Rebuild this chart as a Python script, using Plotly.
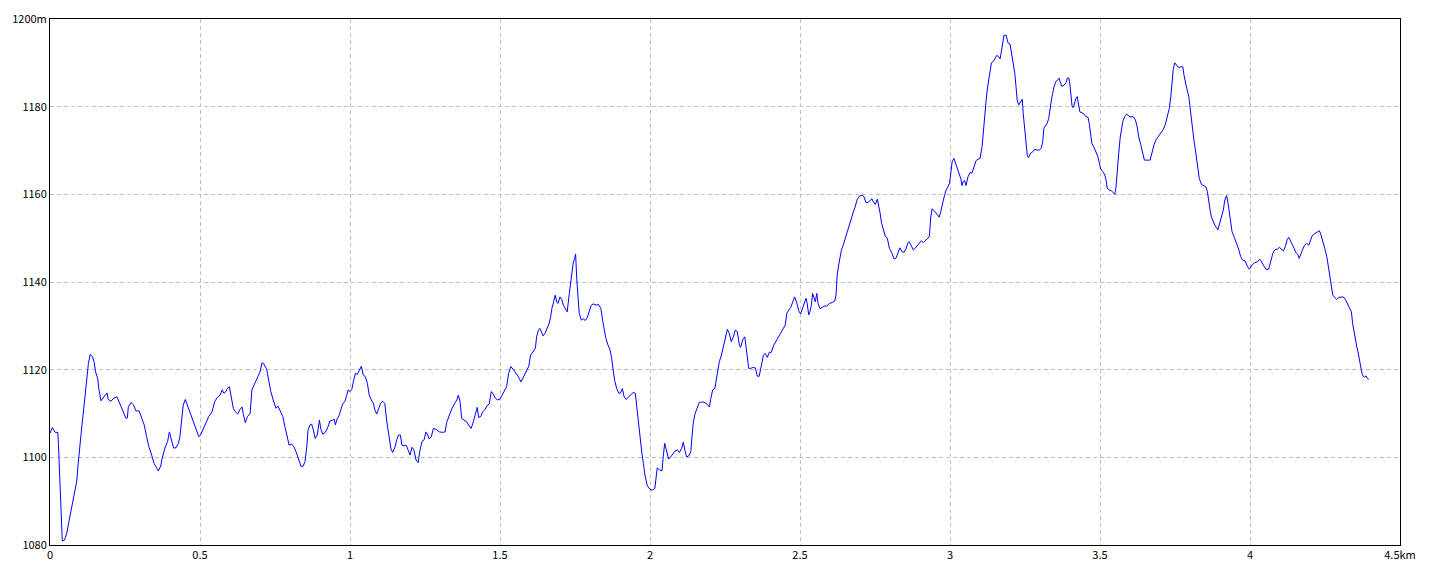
import plotly.graph_objects as go

# distance along route (km)
distance_km = [
    0.000, 0.008, 0.017, 0.026, 0.028, 0.031, 0.034, 0.038, 0.041, 0.048, 0.056, 0.063, 0.072, 0.081, 0.089, 0.094,
    0.099, 0.106, 0.112, 0.117, 0.122, 0.128, 0.134, 0.141, 0.147, 0.152, 0.159, 0.163, 0.170, 0.179, 0.190, 0.194,
    0.203, 0.213, 0.223, 0.230, 0.239, 0.247, 0.253, 0.258, 0.261, 0.270, 0.279, 0.286, 0.297, 0.306, 0.314, 0.322,
    0.330, 0.339, 0.347, 0.356, 0.361, 0.369, 0.374, 0.383, 0.392, 0.398, 0.402, 0.408, 0.412,
    0.420, 0.428, 0.433, 0.439, 0.444, 0.451, 0.458, 0.464, 0.473, 0.482, 0.489, 0.496, 0.502, 0.511, 0.520, 0.529,
    0.540, 0.549, 0.558, 0.567, 0.574, 0.580, 0.586, 0.591, 0.598, 0.604, 0.611, 0.618, 0.626, 0.633, 0.640, 0.644,
    0.651, 0.658, 0.667, 0.673, 0.680, 0.687, 0.693, 0.700, 0.707, 0.713, 0.722, 0.729, 0.736, 0.744, 0.753, 0.760,
    0.767, 0.776, 0.783, 0.791, 0.797, 0.806, 0.813, 0.820, 0.827, 0.832,
    0.837, 0.844, 0.850, 0.856, 0.860, 0.867, 0.872, 0.878, 0.884, 0.891, 0.898, 0.903, 0.909, 0.916, 0.922, 0.929,
    0.933, 0.942, 0.947, 0.951, 0.958, 0.964, 0.970, 0.976, 0.983, 0.989, 0.994, 1.000, 1.006, 1.011, 1.018, 1.024,
    1.031, 1.038, 1.044, 1.051, 1.058, 1.064, 1.071, 1.078, 1.083, 1.089, 1.096, 1.102, 1.109, 1.116, 1.122, 1.129,
    1.136, 1.142, 1.149, 1.156, 1.162, 1.168, 1.173, 1.180, 1.187, 1.193, 1.200, 1.207, 1.213, 1.220, 1.227,
    1.233, 1.240, 1.247, 1.253, 1.259, 1.264, 1.271, 1.278, 1.287, 1.298, 1.309, 1.317, 1.322, 1.331, 1.340, 1.349,
    1.356, 1.361, 1.367, 1.372, 1.380, 1.389, 1.397, 1.404, 1.411, 1.419, 1.424, 1.429, 1.436, 1.442, 1.449, 1.456,
    1.464, 1.471, 1.478, 1.484, 1.491, 1.500, 1.507, 1.513, 1.522, 1.529, 1.536, 1.544, 1.553, 1.561, 1.570, 1.578,
    1.587, 1.596, 1.602, 1.609, 1.618, 1.622, 1.628, 1.633,
    1.638, 1.644, 1.651, 1.658, 1.664, 1.669, 1.673, 1.679, 1.684, 1.689, 1.693, 1.700, 1.706, 1.711, 1.718, 1.724,
    1.731, 1.736, 1.740, 1.744, 1.749, 1.752, 1.756, 1.760, 1.764, 1.771, 1.778, 1.784, 1.791, 1.798, 1.804, 1.811,
    1.820, 1.828, 1.836, 1.842, 1.847, 1.853, 1.860, 1.867, 1.872, 1.878, 1.882, 1.889, 1.896, 1.902, 1.908, 1.913,
    1.920, 1.929, 1.938, 1.944, 1.951, 1.956, 1.961, 1.967, 1.973, 1.978, 1.983, 1.991, 2.000, 2.009, 2.016,
    2.020, 2.024, 2.033, 2.040, 2.044, 2.049, 2.053, 2.058, 2.062, 2.069, 2.076, 2.083, 2.091, 2.098, 2.106, 2.111,
    2.116, 2.122, 2.129, 2.136, 2.140, 2.144, 2.150, 2.158, 2.164, 2.172, 2.180, 2.189, 2.198, 2.202, 2.209, 2.216,
    2.220, 2.227, 2.231, 2.238, 2.244, 2.251, 2.258, 2.264, 2.271, 2.278, 2.284, 2.291, 2.298, 2.302, 2.309, 2.316,
    2.322, 2.329, 2.336, 2.342, 2.351, 2.358, 2.364, 2.371, 2.378, 2.384, 2.391, 2.398, 2.404, 2.411, 2.418, 2.424,
    2.431,
    2.451, 2.456, 2.462, 2.469, 2.476, 2.482, 2.489, 2.496, 2.502, 2.509, 2.516, 2.520, 2.524, 2.529, 2.533, 2.538,
    2.542, 2.547, 2.551, 2.556, 2.560, 2.567, 2.573, 2.580, 2.589, 2.598, 2.607, 2.616, 2.620, 2.624, 2.629, 2.633,
    2.638, 2.644, 2.651, 2.658, 2.664, 2.671, 2.678, 2.684, 2.691, 2.698, 2.707, 2.713, 2.720, 2.728, 2.736, 2.740,
    2.744, 2.751, 2.758, 2.762, 2.767, 2.772, 2.778, 2.784, 2.791, 2.798,
    2.807, 2.813, 2.820, 2.827, 2.833, 2.840, 2.847, 2.853, 2.860, 2.864, 2.871, 2.878, 2.884, 2.891, 2.898, 2.904,
    2.911, 2.918, 2.924, 2.931, 2.936, 2.940, 2.947, 2.953, 2.960, 2.964, 2.969, 2.973, 2.978, 2.982, 2.987, 2.993,
    2.998, 3.002, 3.007, 3.013, 3.018, 3.024, 3.031, 3.036, 3.040, 3.044, 3.049, 3.053, 3.060, 3.067, 3.073, 3.080,
    3.087, 3.093, 3.100, 3.107, 3.111, 3.116, 3.120, 3.124, 3.129, 3.133, 3.138, 3.144, 3.151, 3.156, 3.162, 3.167,
    3.171, 3.176, 3.180, 3.187, 3.193, 3.200,
    3.209, 3.216, 3.220, 3.224, 3.229, 3.236, 3.241, 3.244, 3.249, 3.253, 3.258, 3.262, 3.269, 3.276, 3.282, 3.289,
    3.298, 3.304, 3.309, 3.313, 3.320, 3.324, 3.329, 3.333, 3.338, 3.342, 3.347, 3.353, 3.360, 3.364, 3.369, 3.373,
    3.380, 3.387, 3.391, 3.396, 3.400, 3.403, 3.407, 3.411, 3.416, 3.420, 3.424, 3.429, 3.433, 3.440, 3.447, 3.453,
    3.460, 3.464, 3.469, 3.473, 3.480, 3.487, 3.493, 3.498, 3.502, 3.509, 3.516, 3.520, 3.524, 3.531, 3.538, 3.544,
    3.549, 3.553, 3.558, 3.562, 3.567, 3.571, 3.576, 3.582, 3.589, 3.596,
    3.600, 3.611, 3.618, 3.624, 3.629, 3.636, 3.642, 3.648, 3.658, 3.667, 3.673, 3.680, 3.687, 3.696, 3.704, 3.711,
    3.718, 3.724, 3.731, 3.736, 3.740, 3.744, 3.749, 3.756, 3.762, 3.769, 3.776, 3.780, 3.784, 3.789, 3.796, 3.800,
    3.804, 3.809, 3.813, 3.818, 3.822, 3.827, 3.831, 3.838, 3.844, 3.853, 3.858, 3.862, 3.867, 3.871, 3.878, 3.884,
    3.893, 3.898, 3.904, 3.911, 3.916, 3.922, 3.927, 3.933, 3.940, 3.947, 3.953, 3.958, 3.962, 3.969, 3.976, 3.984,
    3.991, 3.998,
    4.007, 4.016, 4.024, 4.033, 4.040, 4.047, 4.053, 4.062, 4.069, 4.076, 4.082, 4.091, 4.098, 4.104, 4.111, 4.118,
    4.124, 4.129, 4.133, 4.140, 4.147, 4.153, 4.160, 4.164, 4.169, 4.176, 4.182, 4.189, 4.196, 4.200, 4.207, 4.213,
    4.220, 4.227, 4.231, 4.236, 4.242, 4.249, 4.256, 4.262, 4.267, 4.271, 4.276, 4.282, 4.289, 4.296, 4.302, 4.311,
    4.318, 4.324, 4.331, 4.338, 4.342, 4.347, 4.351, 4.356, 4.360, 4.364, 4.369, 4.373, 4.378, 4.382, 4.387, 4.391,
    4.396,
]

# elevation (m)
elevation_m = [
    1105.5, 1106.8, 1105.7, 1105.7, 1103.2, 1098.2, 1093.3, 1088.1, 1080.9, 1081.1, 1082.7, 1085.3, 1088.4, 1092.2, 1094.5, 1098.6,
    1102.8, 1107.0, 1110.8, 1114.6, 1118.4, 1121.4, 1123.5, 1123.0, 1121.8, 1119.5, 1118.0, 1115.5, 1112.9, 1113.8, 1114.7, 1113.2,
    1112.8, 1113.5, 1113.8, 1112.7, 1111.2, 1110.0, 1108.9, 1109.0, 1111.5, 1112.5, 1111.9, 1110.6, 1110.6, 1108.9, 1107.4, 1104.7,
    1102.3, 1100.5, 1098.6, 1097.5, 1096.9, 1098.0, 1099.8, 1102.1, 1103.6, 1105.8, 1104.7, 1103.2, 1102.1,
    1102.2, 1103.2, 1104.7, 1108.1, 1111.9, 1113.2, 1111.9, 1110.4, 1108.9, 1107.4, 1105.8, 1104.7, 1105.1, 1106.4, 1107.8, 1109.3,
    1110.4, 1112.7, 1113.7, 1114.2, 1115.4, 1114.6, 1115.0, 1115.7, 1116.1, 1114.2, 1111.2, 1110.4, 1109.9, 1110.9, 1111.5, 1110.0,
    1107.9, 1109.3, 1110.0, 1115.4, 1116.5, 1117.6, 1118.4, 1119.5, 1121.6, 1121.3, 1120.1, 1117.2, 1115.0, 1113.1, 1111.2, 1111.7,
    1110.8, 1109.3, 1107.0, 1104.3, 1102.8, 1103.0, 1102.4, 1101.3, 1100.0, 1098.8,
    1097.9, 1098.0, 1099.0, 1102.4, 1106.2, 1107.4, 1107.6, 1106.2, 1104.3, 1105.1, 1108.5, 1106.4, 1105.3, 1105.6, 1106.2, 1107.4,
    1108.3, 1108.5, 1108.7, 1107.4, 1108.9, 1109.6, 1111.2, 1112.3, 1112.7, 1114.2, 1115.4, 1115.0, 1115.5, 1117.2, 1119.2, 1118.9,
    1119.8, 1120.8, 1118.8, 1118.4, 1116.9, 1114.2, 1113.1, 1112.3, 1110.8, 1109.9, 1111.2, 1112.3, 1112.8, 1112.3, 1108.5, 1104.7,
    1102.1, 1101.1, 1102.1, 1104.0, 1105.1, 1105.1, 1102.8, 1102.6, 1102.8, 1101.8, 1100.5, 1102.3, 1101.7, 1099.4, 1098.8,
    1101.5, 1103.6, 1104.0, 1105.8, 1105.1, 1104.2, 1104.7, 1106.6, 1106.4, 1105.8, 1105.7, 1105.8, 1107.9, 1109.6, 1111.2, 1112.3,
    1113.1, 1114.2, 1112.7, 1108.9, 1108.5, 1108.1, 1107.2, 1106.6, 1108.1, 1110.0, 1111.4, 1109.1, 1109.3, 1110.4, 1110.8, 1111.7,
    1112.2, 1115.0, 1114.4, 1113.5, 1113.1, 1113.3, 1114.2, 1114.7, 1116.1, 1119.2, 1120.7, 1120.1, 1119.3, 1118.4, 1117.2, 1118.4,
    1119.5, 1120.8, 1123.3, 1123.9, 1124.9, 1127.5, 1129.0, 1129.4,
    1128.4, 1127.7, 1128.4, 1129.6, 1130.6, 1132.1, 1134.0, 1135.5, 1137.0, 1135.5, 1135.1, 1136.6, 1136.0, 1134.7, 1134.0, 1133.2,
    1137.4, 1140.5, 1142.3, 1144.3, 1145.4, 1146.4, 1140.5, 1135.9, 1132.9, 1131.3, 1131.6, 1131.2, 1131.9, 1133.4, 1134.7, 1135.0,
    1134.7, 1134.9, 1134.0, 1131.3, 1129.0, 1127.1, 1125.6, 1124.5, 1122.6, 1119.9, 1117.6, 1115.7, 1114.6, 1114.7, 1115.7, 1114.0,
    1113.2, 1113.8, 1114.4, 1114.8, 1114.6, 1111.5, 1107.0, 1104.0, 1100.9, 1098.6, 1096.0, 1093.5, 1092.7, 1092.5, 1092.9,
    1095.2, 1097.6, 1097.1, 1096.9, 1100.1, 1103.2, 1102.1, 1100.5, 1099.6, 1100.1, 1100.9, 1101.4, 1101.7, 1101.1, 1102.1, 1103.5,
    1101.7, 1100.1, 1100.3, 1101.3, 1104.7, 1107.8, 1109.9, 1111.2, 1112.5, 1112.6, 1112.6, 1112.2, 1111.5, 1113.2, 1115.4, 1115.7,
    1117.2, 1119.9, 1121.8, 1123.3, 1124.9, 1126.8, 1129.2, 1128.3, 1126.4, 1127.5, 1129.0, 1128.7, 1125.6, 1125.1, 1126.8, 1127.5,
    1123.7, 1120.3, 1120.3, 1120.5, 1120.4, 1118.5, 1118.5, 1121.1, 1123.3, 1123.7, 1122.8, 1124.0, 1123.9, 1125.4, 1126.3, 1126.8,
    1127.9,
    1130.2, 1132.9, 1133.6, 1134.2, 1135.5, 1136.6, 1135.3, 1133.4, 1132.7, 1134.0, 1135.7, 1136.3, 1135.1, 1132.5, 1133.2, 1134.7,
    1137.4, 1136.3, 1135.5, 1137.4, 1135.1, 1133.9, 1134.2, 1134.5, 1134.5, 1135.1, 1135.3, 1135.7, 1137.0, 1141.6, 1143.9, 1145.9,
    1147.3, 1148.4, 1150.0, 1151.5, 1153.0, 1154.9, 1156.0, 1157.2, 1158.9, 1159.6, 1159.8, 1159.5, 1158.1, 1158.2, 1158.6, 1159.0,
    1158.3, 1157.7, 1158.9, 1157.6, 1155.7, 1153.4, 1151.9, 1150.5, 1150.0, 1147.7,
    1146.5, 1145.3, 1145.4, 1146.5, 1147.8, 1146.9, 1146.8, 1147.5, 1149.0, 1149.2, 1148.1, 1147.3, 1147.7, 1148.3, 1148.8, 1149.4,
    1149.0, 1149.4, 1149.8, 1150.3, 1154.9, 1156.7, 1156.3, 1155.8, 1155.3, 1154.8, 1156.0, 1157.6, 1158.7, 1159.8, 1161.0, 1161.7,
    1162.5, 1164.4, 1167.4, 1168.2, 1167.1, 1165.9, 1164.8, 1163.6, 1162.0, 1162.9, 1163.1, 1162.0, 1164.0, 1165.0, 1164.8, 1166.3,
    1167.7, 1168.0, 1168.2, 1170.9, 1174.7, 1177.7, 1181.1, 1183.8, 1186.1, 1188.0, 1190.0, 1190.3, 1191.0, 1191.7, 1191.4, 1190.9,
    1192.5, 1194.5, 1196.3, 1196.3, 1194.6, 1194.3,
    1191.0, 1187.6, 1184.6, 1181.5, 1180.4, 1181.1, 1181.7, 1178.5, 1174.7, 1171.0, 1168.6, 1168.4, 1169.4, 1169.7, 1170.3, 1170.1,
    1170.1, 1170.5, 1172.0, 1175.1, 1175.8, 1176.2, 1177.3, 1179.6, 1181.5, 1183.0, 1184.6, 1185.7, 1186.1, 1186.5, 1185.3, 1184.6,
    1184.9, 1185.5, 1186.5, 1186.6, 1184.9, 1181.9, 1180.0, 1179.8, 1181.3, 1181.9, 1182.3, 1179.6, 1178.8, 1178.6, 1178.3, 1177.7,
    1177.6, 1176.2, 1173.5, 1171.6, 1170.7, 1169.7, 1168.6, 1167.1, 1165.8, 1165.2, 1164.4, 1163.3, 1161.4, 1161.0, 1160.8, 1160.4,
    1160.0, 1161.4, 1164.8, 1169.0, 1172.8, 1175.1, 1176.6, 1177.7, 1178.3, 1177.9,
    1177.7, 1177.7, 1177.0, 1175.4, 1173.1, 1171.3, 1169.4, 1167.8, 1167.8, 1167.8, 1169.4, 1171.3, 1172.5, 1173.3, 1174.1, 1174.8,
    1176.0, 1177.7, 1179.6, 1182.3, 1185.3, 1188.4, 1190.0, 1189.5, 1188.9, 1189.1, 1189.1, 1187.2, 1185.7, 1184.2, 1182.3, 1179.6,
    1177.3, 1175.1, 1172.4, 1170.1, 1167.8, 1165.5, 1163.6, 1162.3, 1162.1, 1161.7, 1160.6, 1158.3, 1156.4, 1154.9, 1153.5, 1152.8,
    1151.9, 1153.0, 1154.5, 1156.4, 1158.7, 1159.7, 1157.9, 1154.9, 1151.5, 1150.3, 1149.2, 1148.4, 1147.5, 1145.8, 1144.9, 1144.8,
    1143.6, 1142.9,
    1143.9, 1144.4, 1144.6, 1145.2, 1144.4, 1143.6, 1142.9, 1142.9, 1144.6, 1146.5, 1147.3, 1147.5, 1147.9, 1147.5, 1147.1, 1148.1,
    1149.7, 1150.2, 1149.7, 1148.8, 1147.7, 1146.7, 1146.2, 1145.4, 1146.4, 1147.5, 1148.4, 1148.8, 1148.4, 1149.2, 1150.5, 1150.9,
    1151.2, 1151.5, 1151.7, 1150.9, 1149.6, 1147.7, 1145.8, 1143.1, 1140.5, 1138.2, 1137.0, 1136.5, 1136.0, 1136.5, 1136.6, 1136.6,
    1136.0, 1135.1, 1134.2, 1133.2, 1130.6, 1128.3, 1126.4, 1125.2, 1124.1, 1122.6, 1120.7, 1119.2, 1118.4, 1118.3, 1118.6, 1118.0,
    1117.8,
]

x_tick_values = [0, 0.5, 1, 1.5, 2, 2.5, 3, 3.5, 4, 4.5]
x_tick_labels = ["0", "0.5", "1", "1.5", "2", "2.5", "3", "3.5", "4", "4.5km"]
y_tick_values = [1080, 1100, 1120, 1140, 1160, 1180, 1200]
y_tick_labels = ["1080", "1100", "1120", "1140", "1160", "1180", "1200m"]

fig = go.Figure()
fig.add_trace(go.Scatter(
    x=distance_km, y=elevation_m, mode="lines",
    line=dict(color="#0000ff", width=1),
    hoverinfo="skip", showlegend=False,
))

axis_common = dict(
    showgrid=True, gridcolor="#c0c0c0", gridwidth=1, griddash="4px,3px",
    zeroline=False, showline=True, linecolor="#000000", linewidth=1, mirror=True,
    ticks="", tickfont=dict(family="Noto Sans CJK JP, DejaVu Sans, sans-serif", size=11, color="#000000"),
)

fig.update_layout(
    width=1424, height=560,
    margin=dict(l=42, r=32, t=11, b=23, autoexpand=False),
    paper_bgcolor="#ffffff", plot_bgcolor="#ffffff",
    xaxis=dict(range=[0, 4.5], tickvals=x_tick_values, ticktext=x_tick_labels, **axis_common),
    yaxis=dict(range=[1080, 1200], tickvals=y_tick_values, ticktext=y_tick_labels, **axis_common),
)

fig.write_html("out.html")
